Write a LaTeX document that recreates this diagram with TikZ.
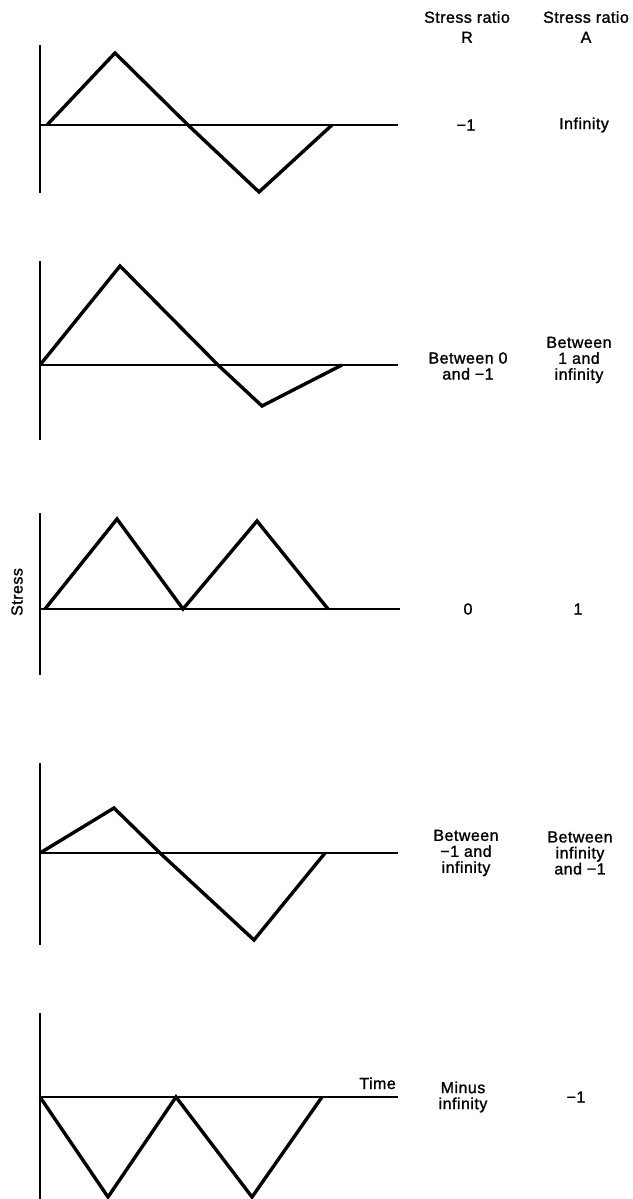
\documentclass[tikz,border=0pt]{standalone}
\usepackage{fontspec}
\setmainfont{Liberation Sans}[FakeBold=1.2,LetterSpace=3]
\begin{document}
\begin{tikzpicture}[x=1pt,y=-1pt,
  axisline/.style={line width=2pt},
  wave/.style={line width=3.4pt, line join=miter},
  lab/.style={font=\fontsize{16}{16}\selectfont, align=center, inner sep=0pt},
  headlab/.style={font=\fontsize{16}{20}\selectfont, align=center, inner sep=0pt}]
\useasboundingbox (0,0) rectangle (632,1199);

% header
\node[headlab] (hR) at (467,27) {Stress ratio\\R};
\node[headlab] (hA) at (586,27) {Stress ratio\\A};

% panel 1
\draw[axisline] (40,45) -- (40,193);
\draw[axisline] (40,125) -- (398,125);
\draw[wave] (47,125) -- (115,53) -- (188,125) -- (259,192) -- (332,125);
\node[lab] (r1) at (466,125) {−1};
\node[lab] (a1) at (584,125) {Infinity};

% panel 2
\draw[axisline] (40,261) -- (40,440);
\draw[axisline] (40,365) -- (398,365);
\draw[wave] (40,365) -- (120,266) -- (218,365) -- (262,406) -- (342,365);
\node[lab] (r2) at (468,366) {Between 0\\and −1};
\node[lab] (a2) at (579,360) {Between\\1 and\\infinity};

% panel 3
\draw[axisline] (40,513) -- (40,675);
\draw[axisline] (40,609) -- (400,609);
\draw[wave] (45,609) -- (117,519) -- (183,609) -- (257,521) -- (328,609);
\node[lab] (r3) at (468,609) {0};
\node[lab] (a3) at (578,609) {1};
\node[lab, rotate=90] (ystress) at (17,592) {Stress};

% panel 4
\draw[axisline] (40,763) -- (40,945);
\draw[axisline] (40,853) -- (398,853);
\draw[wave] (40,853) -- (114,808) -- (160,853) -- (254,940) -- (325,853);
\node[lab] (r4) at (466,853) {Between\\−1 and\\infinity};
\node[lab] (a4) at (580,853) {Between\\infinity\\and −1};

% panel 5
\draw[axisline] (40,1013) -- (40,1199);
\draw[axisline] (40,1097) -- (398,1097);
\draw[wave] (40,1097) -- (108,1197) -- (176,1097) -- (252,1197) -- (322,1097);
\node[lab, anchor=base east] (time) at (396,1089) {Time};
\node[lab] (r5) at (463,1097) {Minus\\infinity};
\node[lab] (a5) at (576,1097) {−1};
\end{tikzpicture}
\end{document}
